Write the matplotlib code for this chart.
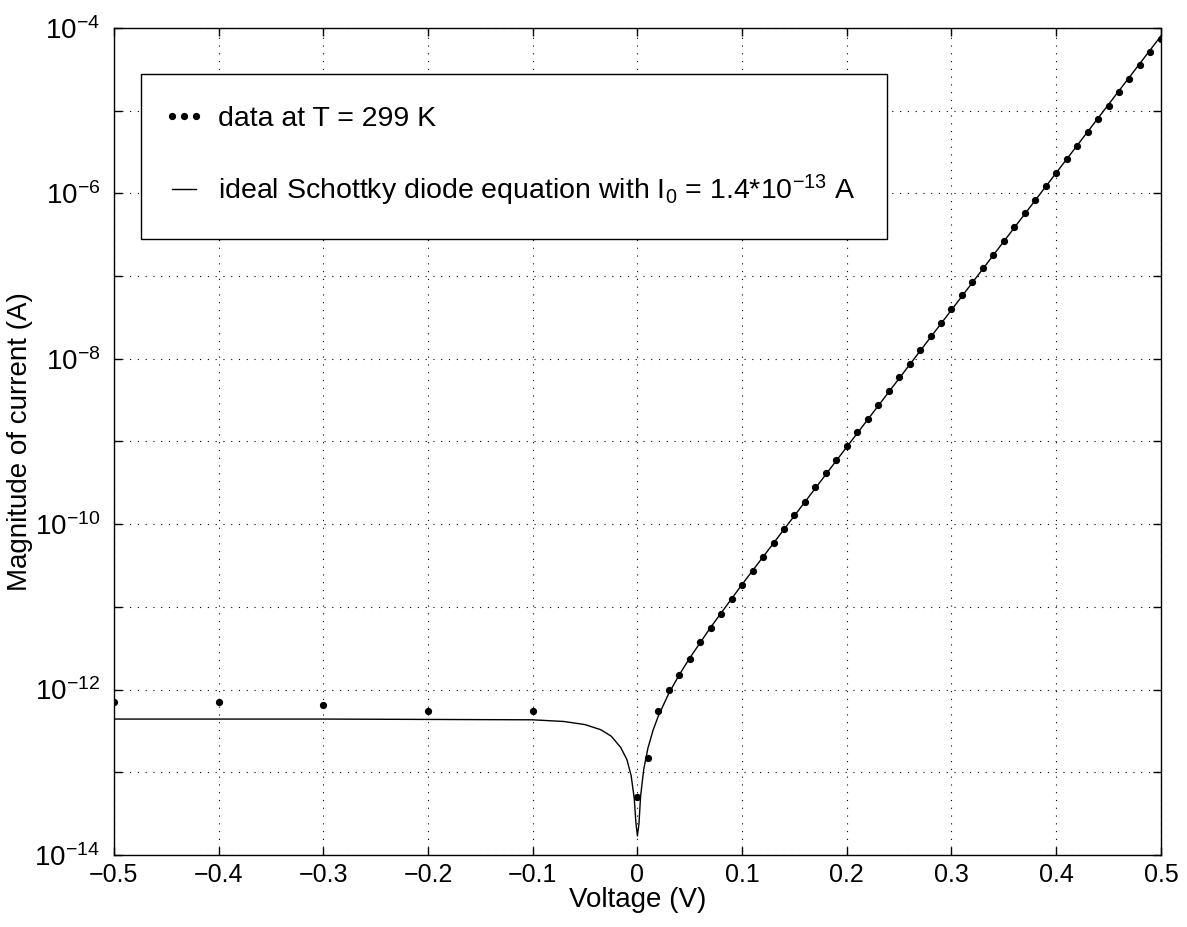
import matplotlib
matplotlib.use("Agg")
import matplotlib.pyplot as plt
from matplotlib.legend_handler import HandlerLine2D
from matplotlib.lines import Line2D

plt.rcParams["font.family"] = ["Liberation Sans", "DejaVu Sans"]
plt.rcParams["mathtext.fontset"] = "custom"
plt.rcParams["mathtext.rm"] = "Liberation Sans"
plt.rcParams["mathtext.it"] = "Liberation Sans:italic"

# measured points, reverse bias
v_rev = [-0.5, -0.4, -0.3, -0.2, -0.1]
i_rev = [7.0e-13, 7.0e-13, 6.5e-13, 5.5e-13, 5.5e-13]

# measured points, forward bias (0.00 .. 0.50 V in 0.01 V steps)
v_fwd = [0.00, 0.01, 0.02, 0.03, 0.04, 0.05, 0.06, 0.07, 0.08, 0.09,
         0.10, 0.11, 0.12, 0.13, 0.14, 0.15, 0.16, 0.17, 0.18, 0.19,
         0.20, 0.21, 0.22, 0.23, 0.24, 0.25, 0.26, 0.27, 0.28, 0.29,
         0.30, 0.31, 0.32, 0.33, 0.34, 0.35, 0.36, 0.37, 0.38, 0.39,
         0.40, 0.41, 0.42, 0.43, 0.44, 0.45, 0.46, 0.47, 0.48, 0.49,
         0.50]
i_fwd = [5.0e-14, 1.5e-13, 5.5e-13, 1.0e-12, 1.5e-12, 2.37e-12, 3.74e-12,
         5.6e-12, 8.3e-12, 1.26e-11, 1.86e-11, 2.75e-11, 4.03e-11, 5.9e-11,
         8.7e-11, 1.29e-10, 1.87e-10, 2.79e-10, 4.12e-10, 5.99e-10, 8.75e-10,
         1.29e-9, 1.88e-9, 2.77e-9, 4.05e-9, 5.97e-9, 8.75e-9, 1.28e-8,
         1.87e-8, 2.74e-8, 4.01e-8, 5.86e-8, 8.59e-8, 1.26e-7, 1.82e-7,
         2.69e-7, 3.94e-7, 5.74e-7, 8.34e-7, 1.23e-6, 1.78e-6, 2.61e-6,
         3.78e-6, 5.48e-6, 7.96e-6, 1.15e-5, 1.67e-5, 2.44e-5, 3.54e-5,
         5.08e-5, 7.3e-5]

# ideal diode curve
v_fit = [-0.5, -0.3, -0.1, -0.07, -0.05, -0.035, -0.025, -0.016, -0.01,
         -0.006, -0.003, -0.0015, 0.0, 0.0015, 0.003, 0.006, 0.01, 0.015,
         0.02, 0.03, 0.04, 0.05, 0.07, 0.1, 0.2, 0.3, 0.4, 0.5]
i_fit = [4.4e-13, 4.4e-13, 4.31e-13, 4.11e-13, 3.77e-13, 3.27e-13, 2.73e-13,
         2.0e-13, 1.42e-13, 9.1e-14, 4.8e-14, 2.5e-14, 1.7e-14, 2.4e-14,
         5.1e-14, 1.08e-13, 1.95e-13, 3.24e-13, 4.8e-13, 9.0e-13, 1.51e-12,
         2.41e-12, 5.67e-12, 1.87e-11, 8.6e-10, 3.9e-8, 1.77e-6, 8.0e-5]

x_ticks = [-0.5, -0.4, -0.3, -0.2, -0.1, 0, 0.1, 0.2, 0.3, 0.4, 0.5]
y_exponents = [-14, -13, -12, -11, -10, -9, -8, -7, -6, -5, -4]

fig = plt.figure(figsize=(11.87, 9.27), dpi=100)
ax = fig.add_axes([0.096, 0.0777, 0.882, 0.8921])

v_data = v_rev + v_fwd
i_data = i_rev + i_fwd
ax.plot(v_data, i_data, linestyle="none", marker="o", markersize=4.2,
        color="black", label="data at T = 299 K")
ax.plot(v_fit, i_fit, color="black", linewidth=1.0,
        label=r"ideal Schottky diode equation with I$_\mathregular{0}$ = 1.4*10$^\mathregular{-13}$ A")

ax.set_yscale("log")
ax.set_xlim(-0.5, 0.5)
ax.set_ylim(1e-14, 1e-4)

ax.set_xticks(x_ticks)
ax.set_xticklabels(["0" if t == 0 else f"{t:g}".replace("-", "\u2212") for t in x_ticks])
ax.set_yticks([10.0 ** e for e in y_exponents])
ax.set_yticklabels([rf"$\mathregular{{10^{{{e}}}}}$" if e % 2 == 0 else "" for e in y_exponents])
ax.minorticks_off()

ax.tick_params(axis="both", which="major", direction="in", length=6, width=1.0,
               top=True, right=True, labelsize=18)
ax.tick_params(axis="x", pad=6)
ax.tick_params(axis="y", pad=10, labelsize=20)
for s in ax.spines.values():
    s.set_linewidth(1.0)

ax.grid(True, which="major", color="black", linestyle=(0, (1, 6)), linewidth=0.8)

ax.set_xlabel("Voltage (V)", fontsize=20, labelpad=0)
ax.set_ylabel("Magnitude of current (A)", fontsize=20, labelpad=1)

leg = ax.legend(loc="upper left", bbox_to_anchor=(0.0258, 0.944), borderaxespad=0,
                fontsize=20.5, frameon=True, fancybox=False, edgecolor="black",
                framealpha=1.0, borderpad=1.1, labelspacing=1.45,
                handlelength=0.85, handletextpad=0.75,
                handler_map={Line2D: HandlerLine2D(marker_pad=0, numpoints=3)})
leg.get_frame().set_linewidth(1.0)

fig.savefig("out.png", dpi=100)
